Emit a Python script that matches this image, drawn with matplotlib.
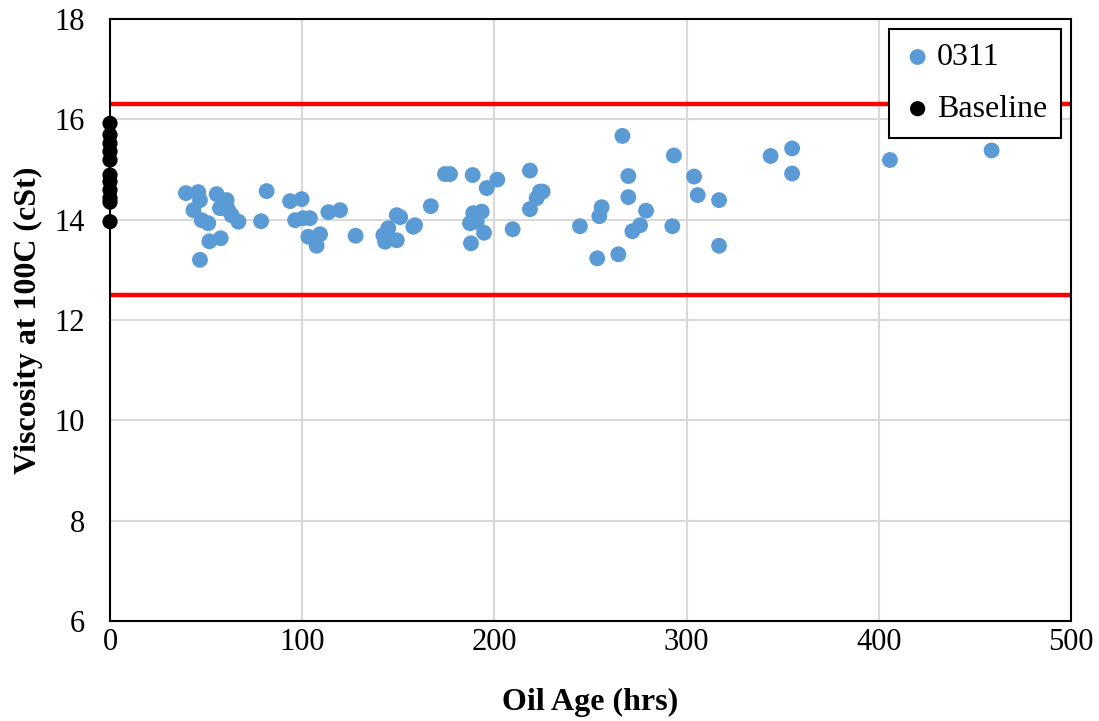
import matplotlib
matplotlib.use("Agg")
import matplotlib.pyplot as plt

plt.rcParams['font.family'] = ['Liberation Serif', 'DejaVu Serif']

# Sample 0311: oil age (hrs) and viscosity at 100C (cSt)
age_0311 = [39.5, 45.9, 46.8, 43.4, 47.7, 51.1, 51.7, 57.6, 46.8, 55.5,
            60.7, 57.2, 61.6, 63.3, 66.8, 78.6, 81.5, 93.7, 99.7, 96.3,
            100.5, 104.0, 103.2, 109.3, 107.5, 113.6, 119.7, 127.8, 142.2, 143.1,
            144.8, 149.2, 149.2, 151.0, 157.8, 158.7, 166.9, 174.3, 176.9, 188.7,
            196.0, 201.5, 187.3, 189.0, 193.4, 190.8, 194.6, 187.8, 209.5, 218.5,
            223.7, 222.0, 218.5, 225.1, 266.6, 293.4, 269.7, 269.7, 255.8, 254.6,
            244.5, 278.9, 275.8, 271.8, 292.6, 253.5, 264.5, 303.9, 305.8, 316.9,
            316.9, 343.7, 354.9, 354.9, 405.8, 458.7]
visc_0311 = [14.53, 14.55, 14.39, 14.19, 13.99, 13.93, 13.57, 13.63, 13.20, 14.51,
             14.39, 14.23, 14.19, 14.09, 13.96, 13.97, 14.57, 14.37, 14.41, 13.99,
             14.03, 14.03, 13.66, 13.71, 13.48, 14.15, 14.19, 13.68, 13.69, 13.56,
             13.83, 14.09, 13.59, 14.05, 13.86, 13.89, 14.27, 14.91, 14.91, 14.89,
             14.63, 14.80, 13.93, 14.13, 14.16, 13.96, 13.74, 13.53, 13.81, 14.98,
             14.56, 14.43, 14.21, 14.56, 15.67, 15.28, 14.87, 14.45, 14.25, 14.07,
             13.87, 14.18, 13.89, 13.77, 13.87, 13.23, 13.31, 14.86, 14.49, 14.39,
             13.48, 15.27, 15.42, 14.92, 15.19, 15.38]

# Baseline samples (new oil)
age_base = [0, 0, 0, 0, 0, 0, 0, 0, 0, 0, 0]
visc_base = [15.92, 15.69, 15.52, 15.36, 15.19, 14.89, 14.76, 14.59, 14.43, 14.35, 13.96]

# Limits
upper_limit = 16.3
lower_limit = 12.5

fig = plt.figure(figsize=(10.99, 7.21), dpi=100)
ax = fig.add_axes([0.1001, 0.1387, 0.8744, 0.8349])

ax.axhline(upper_limit, color='#FF0000', lw=3.2, zorder=2)
ax.axhline(lower_limit, color='#FF0000', lw=3.2, zorder=2)

ax.scatter(age_0311, visc_0311, s=130, color='#5B9BD5', edgecolors='none', label='0311', zorder=3)
ax.scatter(age_base, visc_base, s=120, color='black', edgecolors='none', label='Baseline',
           zorder=4, clip_on=False)

ax.set_xlim(0, 500)
ax.set_ylim(6, 18)
ax.set_xticks(range(0, 501, 100))
ax.set_yticks(range(6, 19, 2))
ax.grid(True, color='#D9D9D9', lw=1.5, zorder=0)
ax.set_axisbelow(True)
for s in ax.spines.values():
    s.set_color('black')
    s.set_linewidth(1.5)
ax.tick_params(length=0, labelsize=22)
ax.tick_params(axis='y', pad=18)
ax.tick_params(axis='x', pad=5)

ax.set_xlabel('Oil Age (hrs)', fontsize=23, fontweight='bold', labelpad=22)
ax.set_ylabel('Viscosity at 100C (cSt)', fontsize=23, fontweight='bold', labelpad=8)

leg = ax.legend(loc='upper right', fontsize=23, frameon=True, fancybox=False,
                borderaxespad=0.3, handletextpad=0.15, handlelength=0.9,
                labelspacing=0.7, markerscale=1.0, borderpad=0.45, framealpha=1)
leg.get_frame().set_edgecolor('black')
leg.get_frame().set_linewidth(1.5)

fig.savefig('out.png', dpi=100)
